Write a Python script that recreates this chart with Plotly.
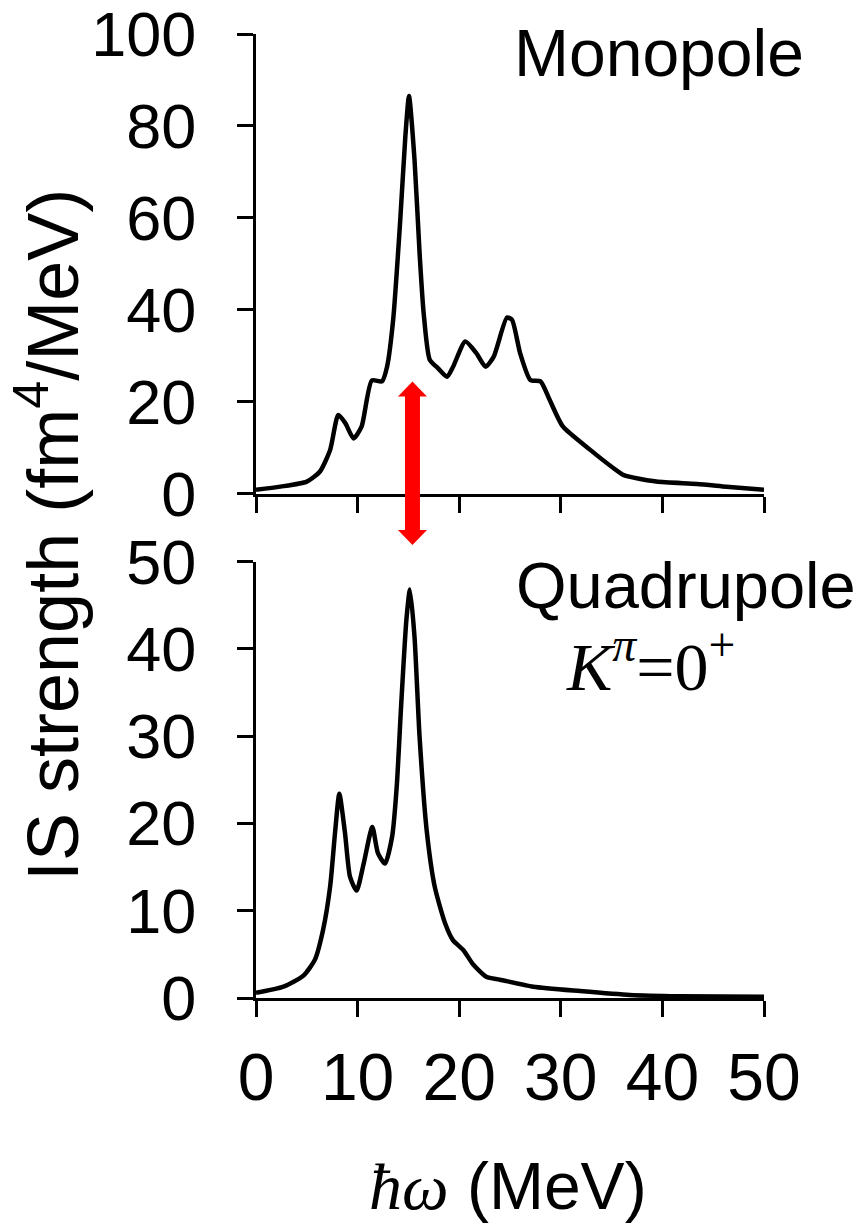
import plotly.graph_objects as go

# ---------------- data ----------------
mono_x = [0, 2.4, 5.0, 6.3, 7.3, 8.1, 8.8, 9.6, 10.4, 11.4, 12.4, 12.9, 13.5, 14.2, 14.7, 15.06,
          15.6, 16.1, 16.5, 17.1, 17.9, 18.8, 19.4, 20.6, 21.7, 22.6, 23.4, 24.7, 25.2, 26.0,
          27.0, 28.0, 28.9, 30.2, 32.9, 35.2, 36.2, 39.4, 43.4, 46.3, 50]
mono_y = [0.8, 1.5, 2.6, 4.8, 9.5, 17.1, 15.3, 12.0, 14.6, 24.6, 24.4, 27.6, 37.8, 59.6, 77.7, 86.5,
          72.7, 52.3, 39.3, 29.1, 27.3, 25.4, 27.6, 33.1, 30.5, 27.6, 29.8, 38.3, 37.8, 30.5,
          24.7, 24.4, 20.4, 14.6, 9.5, 5.5, 4.0, 2.6, 2.1, 1.5, 0.8]

quad_x = [0, 2.7, 4.7, 5.8, 6.6, 7.3, 7.8, 8.2, 8.76, 9.25, 9.9, 10.6, 11.45, 12.0, 12.7, 13.4,
          13.85, 14.3, 14.8, 15.15, 15.6, 16.1, 16.8, 17.6, 18.6, 19.4, 20.4, 21.4, 22.7, 24.0,
          27.3, 31.9, 36.8, 41.7, 50]
quad_y = [0.6, 1.3, 2.6, 4.4, 7.8, 12.8, 19.2, 23.4, 18.9, 13.9, 12.3, 15.4, 19.6, 16.6, 15.4, 18.5,
          24.2, 33.8, 43.3, 46.8, 41.4, 29.9, 19.2, 12.7, 8.6, 6.6, 5.5, 3.8, 2.4, 2.1,
          1.3, 0.8, 0.35, 0.2, 0.15]

x_ticks = [0, 10, 20, 30, 40, 50]
top_ticks = [0, 20, 40, 60, 80, 100]
bot_ticks = [0, 10, 20, 30, 40, 50]

X_RANGE = [0, 50]
TOP_RANGE = [0, 100]
BOT_RANGE = [0, 50]
TOP_DOM = [0.5233, 1.0]
BOT_DOM = [0.0, 0.4528]

# arrow (energy, top-panel strength at upper tip, bottom-panel strength at lower tip)
ARROW_E = 15.4
ARROW_TOP = 24.4
ARROW_BOT = 51.9

W, H = 864, 1224
ML, MR, MT, MB = 256, 100, 34, 226
PW = W - ML - MR
PH = H - MT - MB

SANS = "Liberation Sans, Arial, sans-serif"
SERIF = "Liberation Serif, Times New Roman, serif"

fig = go.Figure()
line = dict(color="black", width=4.5, shape="spline", smoothing=0.6)
fig.add_trace(go.Scatter(x=mono_x, y=mono_y, mode="lines", line=line, xaxis="x", yaxis="y",
                         showlegend=False, hoverinfo="skip"))
fig.add_trace(go.Scatter(x=quad_x, y=quad_y, mode="lines", line=line, xaxis="x2", yaxis="y2",
                         showlegend=False, hoverinfo="skip"))

ax_common = dict(showline=True, linewidth=3, linecolor="black", ticks="outside", ticklen=16,
                 tickwidth=3, tickcolor="black", showgrid=False, zeroline=False, automargin=False,
                 ticklabeloverflow="allow",
                 tickfont=dict(family=SANS, size=63, color="black"))

fig.update_layout(
    width=W, height=H, margin=dict(l=ML, r=MR, t=MT, b=MB, autoexpand=False),
    paper_bgcolor="white", plot_bgcolor="white",
    xaxis=dict(domain=[0, 1], anchor="y", range=X_RANGE, tickvals=x_ticks, showticklabels=False,
               **ax_common),
    yaxis=dict(domain=TOP_DOM, anchor="x", range=TOP_RANGE, tickvals=top_ticks,
               ticklabelstandoff=28, **ax_common),
    xaxis2=dict(domain=[0, 1], anchor="y2", range=X_RANGE, tickvals=x_ticks,
                ticklabelstandoff=4, **{**ax_common, "tickfont": dict(family=SANS, size=66, color="black")}),
    yaxis2=dict(domain=BOT_DOM, anchor="x2", range=BOT_RANGE, tickvals=bot_ticks,
                ticklabelstandoff=28, **ax_common),
)


def xp(e):
    return (e - X_RANGE[0]) / (X_RANGE[1] - X_RANGE[0])


def yp(v, dom, rng):
    return dom[0] + (v - rng[0]) / (rng[1] - rng[0]) * (dom[1] - dom[0])


def px_x(n):
    return (n - ML) / PW


def px_y(n):
    return (H - MB - n) / PH


# red double arrow
cx = xp(ARROW_E)
yt = yp(ARROW_TOP, TOP_DOM, TOP_RANGE)
yb = yp(ARROW_BOT, BOT_DOM, BOT_RANGE)
hl = 15 / PH
hw = 14.5 / PW
sw = 7.5 / PW
pts = [(cx - sw, yt - hl), (cx - hw, yt - hl), (cx, yt), (cx + hw, yt - hl), (cx + sw, yt - hl),
       (cx + sw, yb + hl), (cx + hw, yb + hl), (cx, yb), (cx - hw, yb + hl), (cx - sw, yb + hl)]
path = "M " + " L ".join(f"{a:.5f},{b:.5f}" for a, b in pts) + " Z"
fig.add_shape(type="path", path=path, xref="paper", yref="paper", fillcolor="red",
              line=dict(color="red", width=0))

annos = [
    dict(text="Monopole", x=px_x(659), y=px_y(53), font=dict(family=SANS, size=66, color="black")),
    dict(text="Quadrupole", x=px_x(686), y=px_y(585), font=dict(family=SANS, size=65, color="black")),
    dict(text="<i>K</i><sup><i>π</i></sup>=0<sup>+</sup>", x=px_x(650), y=px_y(662),
         font=dict(family=SERIF, size=68, color="black")),
    dict(text="IS strength (fm<sup>4</sup>/MeV)", x=px_x(47), y=px_y(535), textangle=-90,
         font=dict(family=SANS, size=72, color="black")),
    dict(text=f'<span style="font-family:{SERIF}"><i>ħω</i></span> (MeV)', x=px_x(508), y=px_y(1186),
         font=dict(family=SANS, size=66, color="black")),
]
for a in annos:
    fig.add_annotation(xref="paper", yref="paper", showarrow=False, xanchor="center",
                       yanchor="middle", **a)

fig.write_html("out.html", config={"displayModeBar": False},
               post_script="document.body.style.margin='0';document.body.style.overflow='hidden';")
